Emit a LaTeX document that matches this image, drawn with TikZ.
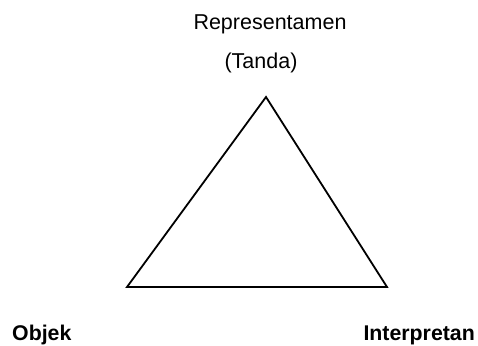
\documentclass[tikz,border=0pt]{standalone}
\usepackage{fontspec}
\setmainfont{Liberation Sans}
\tikzset{lbl/.style={inner sep=0pt, font=\fontsize{21.5}{24}\selectfont},
  blbl/.style={lbl, font=\fontsize{21.3}{24}\selectfont\bfseries},
  edge/.style={line width=1.8pt, line join=miter}}
\begin{document}
\begin{tikzpicture}[x=1pt,y=-1pt]
\useasboundingbox (0,0) rectangle (478,345);
\coordinate (top) at (266,97);
\coordinate (bl) at (127,287);
\coordinate (br) at (387,287);
\draw[edge] (top) -- (bl) -- (br) -- cycle;
\node[lbl, anchor=base] (rep) at (270,30) {Representamen};
\node[lbl, anchor=base] (tanda) at (261,68) {(Tanda)};
\node[blbl, anchor=base west] (obj) at (12,340) {Objek};
\node[blbl, anchor=base east] (int) at (475,340) {Interpretan};
\end{tikzpicture}
\end{document}
